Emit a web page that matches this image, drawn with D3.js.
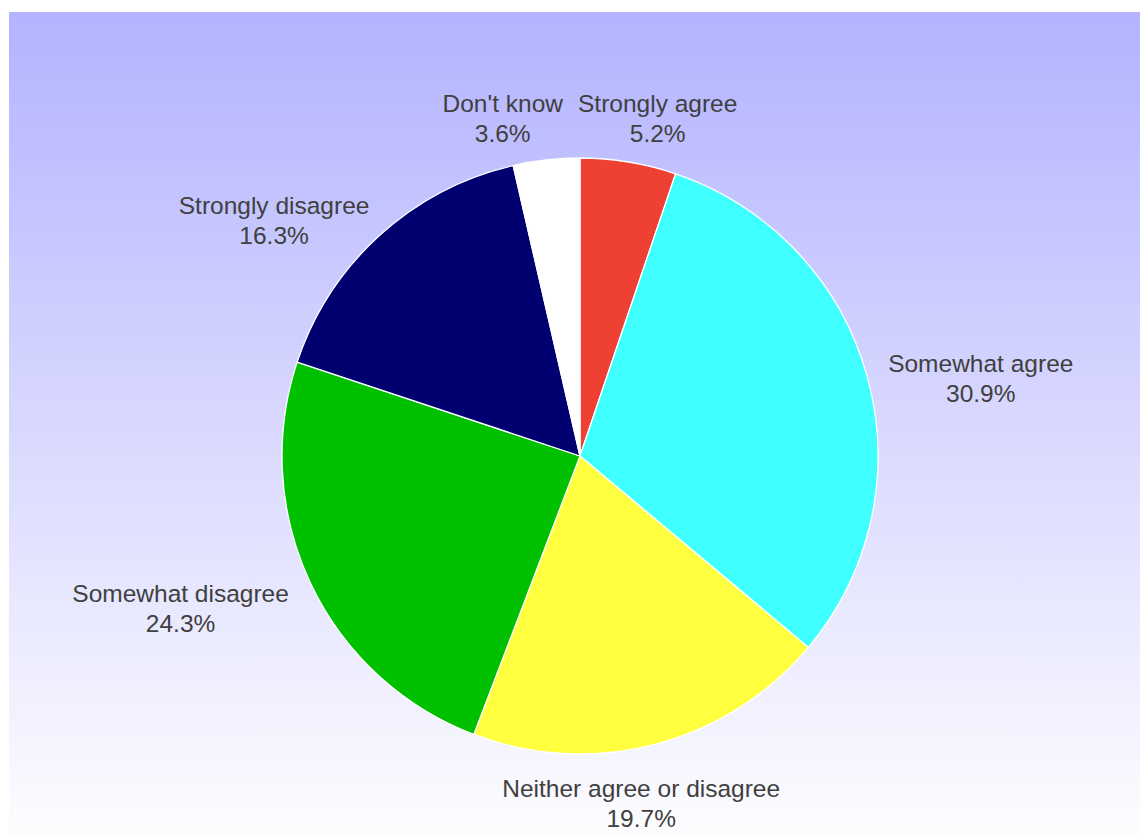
<!DOCTYPE html>
<html>
<head>
<meta charset="utf-8">
<script src="https://cdn.jsdelivr.net/npm/d3@7"></script>
<style>
  html, body { margin: 0; padding: 0; background: #ffffff; }
  svg { display: block; }
</style>
</head>
<body>
<div id="chart"></div>
<script>
// ---- data ----
const categories = ["Strongly agree", "Somewhat agree", "Neither agree or disagree", "Somewhat disagree", "Strongly disagree", "Don't know"];
const values = [5.2, 30.9, 19.7, 24.3, 16.3, 3.6];
const colors = ["#ef4034", "#40ffff", "#ffff40", "#00c000", "#000070", "#ffffff"];

// ---- layout (not data) ----
const W = 1140, H = 836;
const cx = 580, cy = 456, R = 298;
const labelA = 410, labelB = 345;             // elliptical label orbit
const labelNudge = [[11, 5], [6, 18], [-42, 16], [-29, 7], [-30, 22], [-31, 8]];
const fontSize = 24.5, lineGap = 30;

const svg = d3.select("#chart").append("svg").attr("width", W).attr("height", H);

const defs = svg.append("defs");
const grad = defs.append("linearGradient").attr("id", "bg").attr("x1", 0).attr("y1", 0).attr("x2", 0).attr("y2", 1);
grad.append("stop").attr("offset", "0%").attr("stop-color", "#b3b3ff");
grad.append("stop").attr("offset", "100%").attr("stop-color", "#fdfdff");

svg.append("rect").attr("x", 9).attr("y", 12).attr("width", W - 9).attr("height", H - 12).attr("fill", "url(#bg)");

const pie = d3.pie().sort(null).value(d => d)(values);
const arc = d3.arc().innerRadius(0).outerRadius(R);

const g = svg.append("g").attr("transform", `translate(${cx},${cy})`);
g.selectAll("path.slice").data(pie).join("path")
  .attr("class", "slice")
  .attr("d", arc)
  .attr("fill", (d, i) => colors[i])
  .attr("stroke", "#ffffff")
  .attr("stroke-width", 1.3)
  .attr("stroke-linejoin", "round");

const fmt = d3.format(".1f");
g.selectAll("text.lbl").data(pie).join("text")
  .attr("class", "lbl")
  .attr("text-anchor", "middle")
  .attr("font-family", "Liberation Sans, Arial, sans-serif")
  .attr("font-size", fontSize)
  .attr("fill", "#404040")
  .each(function (d, i) {
    const mid = (d.startAngle + d.endAngle) / 2;
    const x = labelA * Math.sin(mid) + labelNudge[i][0];
    const y = -labelB * Math.cos(mid) + labelNudge[i][1] - 9;
    const t = d3.select(this);
    t.append("tspan").attr("x", x).attr("y", y).text(categories[i]);
    t.append("tspan").attr("x", x).attr("y", y + lineGap).text(fmt(values[i]) + "%");
  });
</script>
</body>
</html>
